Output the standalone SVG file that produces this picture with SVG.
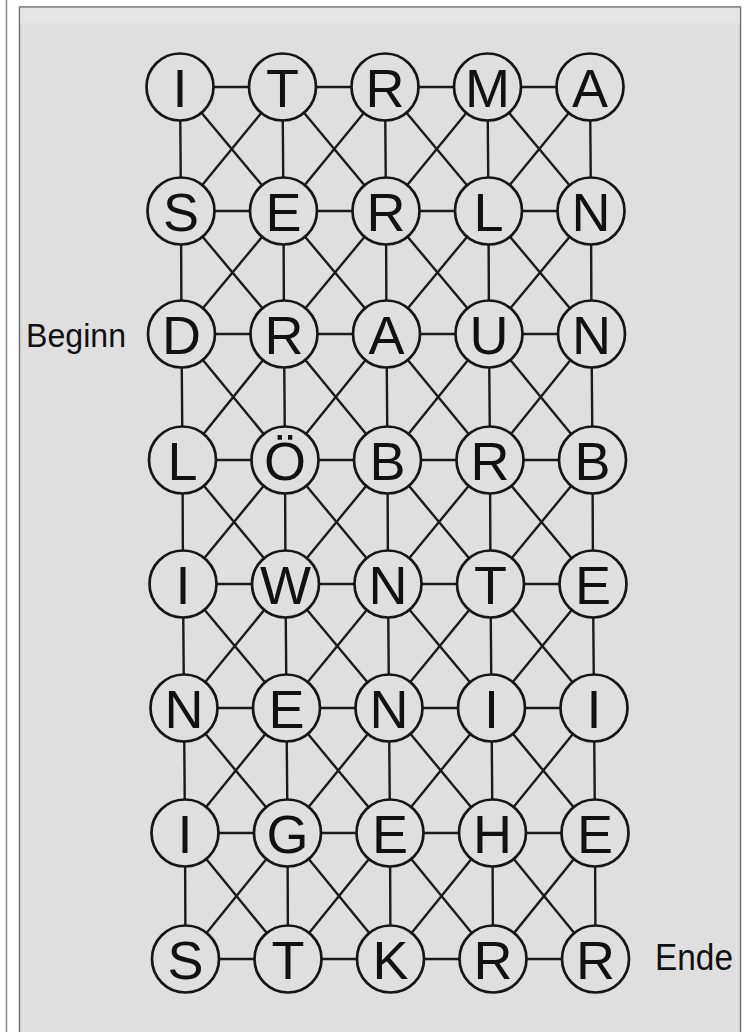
<svg xmlns="http://www.w3.org/2000/svg" width="746" height="1032" viewBox="0 0 746 1032">
<style>
.ln{stroke:#1a1a1a;stroke-width:2.4;stroke-linecap:round}
.nd circle{fill:#dfdfdf;stroke:#151515;stroke-width:2.7}
.nd text{font-family:"Liberation Sans",Arial,sans-serif;font-size:54px;fill:#111;text-anchor:middle}
.lbl{font-family:"Liberation Sans",Arial,sans-serif;fill:#111}
</style>
<rect x="0" y="0" width="746" height="1032" fill="#ffffff"/>
<line x1="6.5" y1="0" x2="6.5" y2="1032" stroke="#8a8a8a" stroke-width="1.5"/>
<rect x="19.5" y="7" width="721" height="1030" fill="#dfdfdf" stroke="#6e6e6e" stroke-width="1.5"/>
<rect x="20.3" y="7.8" width="719.4" height="15.5" fill="#e5e5e5"/>
<g id="connectors">
<line class="ln" x1="180" y1="87" x2="282.5" y2="87"/>
<line class="ln" x1="282.5" y1="87" x2="385" y2="87"/>
<line class="ln" x1="385" y1="87" x2="487.5" y2="87"/>
<line class="ln" x1="487.5" y1="87" x2="590" y2="87"/>
<line class="ln" x1="181" y1="211" x2="283.5" y2="211"/>
<line class="ln" x1="283.5" y1="211" x2="386" y2="211"/>
<line class="ln" x1="386" y1="211" x2="488.5" y2="211"/>
<line class="ln" x1="488.5" y1="211" x2="591" y2="211"/>
<line class="ln" x1="181.5" y1="334" x2="284" y2="334"/>
<line class="ln" x1="284" y1="334" x2="386.5" y2="334"/>
<line class="ln" x1="386.5" y1="334" x2="489" y2="334"/>
<line class="ln" x1="489" y1="334" x2="591.5" y2="334"/>
<line class="ln" x1="182.5" y1="460" x2="285" y2="460"/>
<line class="ln" x1="285" y1="460" x2="387.5" y2="460"/>
<line class="ln" x1="387.5" y1="460" x2="490" y2="460"/>
<line class="ln" x1="490" y1="460" x2="592.5" y2="460"/>
<line class="ln" x1="183" y1="584" x2="285.5" y2="584"/>
<line class="ln" x1="285.5" y1="584" x2="388" y2="584"/>
<line class="ln" x1="388" y1="584" x2="490.5" y2="584"/>
<line class="ln" x1="490.5" y1="584" x2="593" y2="584"/>
<line class="ln" x1="184" y1="708" x2="286.5" y2="708"/>
<line class="ln" x1="286.5" y1="708" x2="389" y2="708"/>
<line class="ln" x1="389" y1="708" x2="491.5" y2="708"/>
<line class="ln" x1="491.5" y1="708" x2="594" y2="708"/>
<line class="ln" x1="185" y1="833" x2="287.5" y2="833"/>
<line class="ln" x1="287.5" y1="833" x2="390" y2="833"/>
<line class="ln" x1="390" y1="833" x2="492.5" y2="833"/>
<line class="ln" x1="492.5" y1="833" x2="595" y2="833"/>
<line class="ln" x1="185.5" y1="959" x2="288" y2="959"/>
<line class="ln" x1="288" y1="959" x2="390.5" y2="959"/>
<line class="ln" x1="390.5" y1="959" x2="493" y2="959"/>
<line class="ln" x1="493" y1="959" x2="595.5" y2="959"/>
<line class="ln" x1="180" y1="87" x2="181" y2="211"/>
<line class="ln" x1="282.5" y1="87" x2="283.5" y2="211"/>
<line class="ln" x1="385" y1="87" x2="386" y2="211"/>
<line class="ln" x1="487.5" y1="87" x2="488.5" y2="211"/>
<line class="ln" x1="590" y1="87" x2="591" y2="211"/>
<line class="ln" x1="181" y1="211" x2="181.5" y2="334"/>
<line class="ln" x1="283.5" y1="211" x2="284" y2="334"/>
<line class="ln" x1="386" y1="211" x2="386.5" y2="334"/>
<line class="ln" x1="488.5" y1="211" x2="489" y2="334"/>
<line class="ln" x1="591" y1="211" x2="591.5" y2="334"/>
<line class="ln" x1="181.5" y1="334" x2="182.5" y2="460"/>
<line class="ln" x1="284" y1="334" x2="285" y2="460"/>
<line class="ln" x1="386.5" y1="334" x2="387.5" y2="460"/>
<line class="ln" x1="489" y1="334" x2="490" y2="460"/>
<line class="ln" x1="591.5" y1="334" x2="592.5" y2="460"/>
<line class="ln" x1="182.5" y1="460" x2="183" y2="584"/>
<line class="ln" x1="285" y1="460" x2="285.5" y2="584"/>
<line class="ln" x1="387.5" y1="460" x2="388" y2="584"/>
<line class="ln" x1="490" y1="460" x2="490.5" y2="584"/>
<line class="ln" x1="592.5" y1="460" x2="593" y2="584"/>
<line class="ln" x1="183" y1="584" x2="184" y2="708"/>
<line class="ln" x1="285.5" y1="584" x2="286.5" y2="708"/>
<line class="ln" x1="388" y1="584" x2="389" y2="708"/>
<line class="ln" x1="490.5" y1="584" x2="491.5" y2="708"/>
<line class="ln" x1="593" y1="584" x2="594" y2="708"/>
<line class="ln" x1="184" y1="708" x2="185" y2="833"/>
<line class="ln" x1="286.5" y1="708" x2="287.5" y2="833"/>
<line class="ln" x1="389" y1="708" x2="390" y2="833"/>
<line class="ln" x1="491.5" y1="708" x2="492.5" y2="833"/>
<line class="ln" x1="594" y1="708" x2="595" y2="833"/>
<line class="ln" x1="185" y1="833" x2="185.5" y2="959"/>
<line class="ln" x1="287.5" y1="833" x2="288" y2="959"/>
<line class="ln" x1="390" y1="833" x2="390.5" y2="959"/>
<line class="ln" x1="492.5" y1="833" x2="493" y2="959"/>
<line class="ln" x1="595" y1="833" x2="595.5" y2="959"/>
<line class="ln" x1="180" y1="87" x2="283.5" y2="211"/>
<line class="ln" x1="282.5" y1="87" x2="181" y2="211"/>
<line class="ln" x1="282.5" y1="87" x2="386" y2="211"/>
<line class="ln" x1="385" y1="87" x2="283.5" y2="211"/>
<line class="ln" x1="385" y1="87" x2="488.5" y2="211"/>
<line class="ln" x1="487.5" y1="87" x2="386" y2="211"/>
<line class="ln" x1="487.5" y1="87" x2="591" y2="211"/>
<line class="ln" x1="590" y1="87" x2="488.5" y2="211"/>
<line class="ln" x1="181" y1="211" x2="284" y2="334"/>
<line class="ln" x1="283.5" y1="211" x2="181.5" y2="334"/>
<line class="ln" x1="283.5" y1="211" x2="386.5" y2="334"/>
<line class="ln" x1="386" y1="211" x2="284" y2="334"/>
<line class="ln" x1="386" y1="211" x2="489" y2="334"/>
<line class="ln" x1="488.5" y1="211" x2="386.5" y2="334"/>
<line class="ln" x1="488.5" y1="211" x2="591.5" y2="334"/>
<line class="ln" x1="591" y1="211" x2="489" y2="334"/>
<line class="ln" x1="181.5" y1="334" x2="285" y2="460"/>
<line class="ln" x1="284" y1="334" x2="182.5" y2="460"/>
<line class="ln" x1="284" y1="334" x2="387.5" y2="460"/>
<line class="ln" x1="386.5" y1="334" x2="285" y2="460"/>
<line class="ln" x1="386.5" y1="334" x2="490" y2="460"/>
<line class="ln" x1="489" y1="334" x2="387.5" y2="460"/>
<line class="ln" x1="489" y1="334" x2="592.5" y2="460"/>
<line class="ln" x1="591.5" y1="334" x2="490" y2="460"/>
<line class="ln" x1="182.5" y1="460" x2="285.5" y2="584"/>
<line class="ln" x1="285" y1="460" x2="183" y2="584"/>
<line class="ln" x1="285" y1="460" x2="388" y2="584"/>
<line class="ln" x1="387.5" y1="460" x2="285.5" y2="584"/>
<line class="ln" x1="387.5" y1="460" x2="490.5" y2="584"/>
<line class="ln" x1="490" y1="460" x2="388" y2="584"/>
<line class="ln" x1="490" y1="460" x2="593" y2="584"/>
<line class="ln" x1="592.5" y1="460" x2="490.5" y2="584"/>
<line class="ln" x1="183" y1="584" x2="286.5" y2="708"/>
<line class="ln" x1="285.5" y1="584" x2="184" y2="708"/>
<line class="ln" x1="285.5" y1="584" x2="389" y2="708"/>
<line class="ln" x1="388" y1="584" x2="286.5" y2="708"/>
<line class="ln" x1="388" y1="584" x2="491.5" y2="708"/>
<line class="ln" x1="490.5" y1="584" x2="389" y2="708"/>
<line class="ln" x1="490.5" y1="584" x2="594" y2="708"/>
<line class="ln" x1="593" y1="584" x2="491.5" y2="708"/>
<line class="ln" x1="184" y1="708" x2="287.5" y2="833"/>
<line class="ln" x1="286.5" y1="708" x2="185" y2="833"/>
<line class="ln" x1="286.5" y1="708" x2="390" y2="833"/>
<line class="ln" x1="389" y1="708" x2="287.5" y2="833"/>
<line class="ln" x1="389" y1="708" x2="492.5" y2="833"/>
<line class="ln" x1="491.5" y1="708" x2="390" y2="833"/>
<line class="ln" x1="491.5" y1="708" x2="595" y2="833"/>
<line class="ln" x1="594" y1="708" x2="492.5" y2="833"/>
<line class="ln" x1="185" y1="833" x2="288" y2="959"/>
<line class="ln" x1="287.5" y1="833" x2="185.5" y2="959"/>
<line class="ln" x1="287.5" y1="833" x2="390.5" y2="959"/>
<line class="ln" x1="390" y1="833" x2="288" y2="959"/>
<line class="ln" x1="390" y1="833" x2="493" y2="959"/>
<line class="ln" x1="492.5" y1="833" x2="390.5" y2="959"/>
<line class="ln" x1="492.5" y1="833" x2="595.5" y2="959"/>
<line class="ln" x1="595" y1="833" x2="493" y2="959"/>
</g>
<g id="n-1-1" class="nd"><circle cx="180" cy="87" r="33.5"/><text x="180" y="106.5">I</text></g>
<g id="n-1-2" class="nd"><circle cx="282.5" cy="87" r="33.5"/><text x="282.5" y="106.5">T</text></g>
<g id="n-1-3" class="nd"><circle cx="385" cy="87" r="33.5"/><text x="385" y="106.5">R</text></g>
<g id="n-1-4" class="nd"><circle cx="487.5" cy="87" r="33.5"/><text x="487.5" y="106.5">M</text></g>
<g id="n-1-5" class="nd"><circle cx="590" cy="87" r="33.5"/><text x="590" y="106.5">A</text></g>
<g id="n-2-1" class="nd"><circle cx="181" cy="211" r="33.5"/><text x="181" y="230.5">S</text></g>
<g id="n-2-2" class="nd"><circle cx="283.5" cy="211" r="33.5"/><text x="283.5" y="230.5">E</text></g>
<g id="n-2-3" class="nd"><circle cx="386" cy="211" r="33.5"/><text x="386" y="230.5">R</text></g>
<g id="n-2-4" class="nd"><circle cx="488.5" cy="211" r="33.5"/><text x="488.5" y="230.5">L</text></g>
<g id="n-2-5" class="nd"><circle cx="591" cy="211" r="33.5"/><text x="591" y="230.5">N</text></g>
<g id="n-3-1" class="nd"><circle cx="181.5" cy="334" r="33.5"/><text x="181.5" y="353.5">D</text></g>
<g id="n-3-2" class="nd"><circle cx="284" cy="334" r="33.5"/><text x="284" y="353.5">R</text></g>
<g id="n-3-3" class="nd"><circle cx="386.5" cy="334" r="33.5"/><text x="386.5" y="353.5">A</text></g>
<g id="n-3-4" class="nd"><circle cx="489" cy="334" r="33.5"/><text x="489" y="353.5">U</text></g>
<g id="n-3-5" class="nd"><circle cx="591.5" cy="334" r="33.5"/><text x="591.5" y="353.5">N</text></g>
<g id="n-4-1" class="nd"><circle cx="182.5" cy="460" r="33.5"/><text x="182.5" y="479.5">L</text></g>
<g id="n-4-2" class="nd"><circle cx="285" cy="460" r="33.5"/><text x="285" y="479.5">Ö</text></g>
<g id="n-4-3" class="nd"><circle cx="387.5" cy="460" r="33.5"/><text x="387.5" y="479.5">B</text></g>
<g id="n-4-4" class="nd"><circle cx="490" cy="460" r="33.5"/><text x="490" y="479.5">R</text></g>
<g id="n-4-5" class="nd"><circle cx="592.5" cy="460" r="33.5"/><text x="592.5" y="479.5">B</text></g>
<g id="n-5-1" class="nd"><circle cx="183" cy="584" r="33.5"/><text x="183" y="603.5">I</text></g>
<g id="n-5-2" class="nd"><circle cx="285.5" cy="584" r="33.5"/><text x="285.5" y="603.5">W</text></g>
<g id="n-5-3" class="nd"><circle cx="388" cy="584" r="33.5"/><text x="388" y="603.5">N</text></g>
<g id="n-5-4" class="nd"><circle cx="490.5" cy="584" r="33.5"/><text x="490.5" y="603.5">T</text></g>
<g id="n-5-5" class="nd"><circle cx="593" cy="584" r="33.5"/><text x="593" y="603.5">E</text></g>
<g id="n-6-1" class="nd"><circle cx="184" cy="708" r="33.5"/><text x="184" y="727.5">N</text></g>
<g id="n-6-2" class="nd"><circle cx="286.5" cy="708" r="33.5"/><text x="286.5" y="727.5">E</text></g>
<g id="n-6-3" class="nd"><circle cx="389" cy="708" r="33.5"/><text x="389" y="727.5">N</text></g>
<g id="n-6-4" class="nd"><circle cx="491.5" cy="708" r="33.5"/><text x="491.5" y="727.5">I</text></g>
<g id="n-6-5" class="nd"><circle cx="594" cy="708" r="33.5"/><text x="594" y="727.5">I</text></g>
<g id="n-7-1" class="nd"><circle cx="185" cy="833" r="33.5"/><text x="185" y="852.5">I</text></g>
<g id="n-7-2" class="nd"><circle cx="287.5" cy="833" r="33.5"/><text x="287.5" y="852.5">G</text></g>
<g id="n-7-3" class="nd"><circle cx="390" cy="833" r="33.5"/><text x="390" y="852.5">E</text></g>
<g id="n-7-4" class="nd"><circle cx="492.5" cy="833" r="33.5"/><text x="492.5" y="852.5">H</text></g>
<g id="n-7-5" class="nd"><circle cx="595" cy="833" r="33.5"/><text x="595" y="852.5">E</text></g>
<g id="n-8-1" class="nd"><circle cx="185.5" cy="959" r="33.5"/><text x="185.5" y="978.5">S</text></g>
<g id="n-8-2" class="nd"><circle cx="288" cy="959" r="33.5"/><text x="288" y="978.5">T</text></g>
<g id="n-8-3" class="nd"><circle cx="390.5" cy="959" r="33.5"/><text x="390.5" y="978.5">K</text></g>
<g id="n-8-4" class="nd"><circle cx="493" cy="959" r="33.5"/><text x="493" y="978.5">R</text></g>
<g id="n-8-5" class="nd"><circle cx="595.5" cy="959" r="33.5"/><text x="595.5" y="978.5">R</text></g>
<g id="label-beginn"><text class="lbl" x="26" y="347" font-size="33" textLength="100" lengthAdjust="spacingAndGlyphs">Beginn</text></g>
<g id="label-ende"><text class="lbl" x="655" y="970" font-size="36" textLength="78" lengthAdjust="spacingAndGlyphs">Ende</text></g>
</svg>
